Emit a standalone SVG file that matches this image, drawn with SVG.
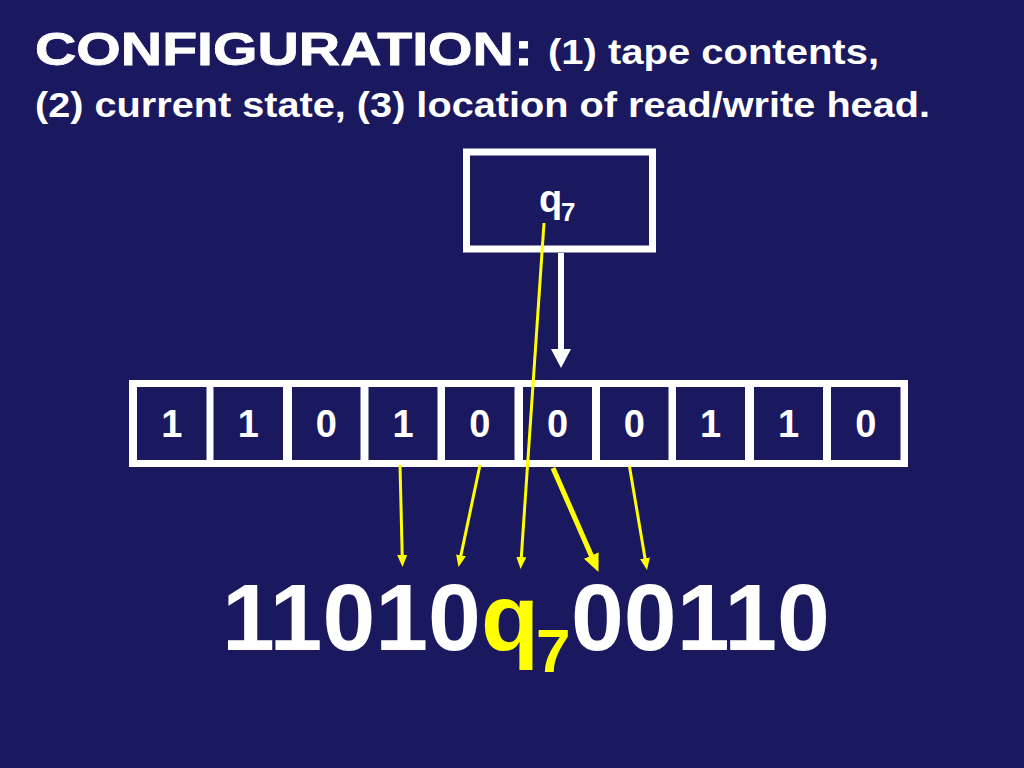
<svg xmlns="http://www.w3.org/2000/svg" width="1024" height="768" viewBox="0 0 1024 768">
<defs>
<style>
.t{font-family:"Liberation Sans",Arial,sans-serif;font-weight:bold;fill:#FFFFFF}
.y{fill:#FFFF00}
.cell{fill:#1A185E}
.dig{font-size:38px;text-anchor:middle}
.ya{stroke:#FFFF00;stroke-width:3;fill:none}
</style>
<marker id="hy" viewBox="0 0 12 10" refX="4" refY="5" markerWidth="12" markerHeight="10" markerUnits="userSpaceOnUse" orient="auto"><path d="M0,0 L12,5 L0,10 z" fill="#FFFF00"/></marker>
<marker id="hyb" viewBox="0 0 18 16" refX="6" refY="8" markerWidth="18" markerHeight="16" markerUnits="userSpaceOnUse" orient="auto"><path d="M0,0 L18,8 L0,16 z" fill="#FFFF00"/></marker>
<marker id="hw" viewBox="0 0 19 20" refX="6" refY="10" markerWidth="19" markerHeight="20" markerUnits="userSpaceOnUse" orient="auto"><path d="M0,0 L19,10 L0,20 z" fill="#FFFFFF"/></marker>
</defs>
<rect width="1024" height="768" fill="#1A185E"/>
<g id="title">
<text class="t" x="35" y="65" font-size="47" textLength="498" lengthAdjust="spacingAndGlyphs" stroke="#FFFFFF" stroke-width="0.8">CONFIGURATION:</text>
<text class="t" x="548" y="64" font-size="35.5" textLength="331" lengthAdjust="spacingAndGlyphs">(1) tape contents,</text>
<text class="t" x="35" y="117" font-size="35.5" textLength="895" lengthAdjust="spacingAndGlyphs">(2) current state, (3) location of read/write head.</text>
</g>
<g id="state">
<rect x="466.5" y="152" width="186" height="97" fill="#1A185E" stroke="#FFFFFF" stroke-width="7"/>
<text class="t" x="539" y="212" font-size="38">q</text>
<text class="t" x="561" y="221" font-size="26">7</text>
</g>
<g id="tape">
<rect x="129" y="380" width="779" height="87" fill="#FFFFFF"/>
<g id="cell1"><rect class="cell" x="137" y="387" width="69.5" height="73"/><text class="t dig" x="171.7" y="437">1</text></g>
<g id="cell2"><rect class="cell" x="213.5" y="387" width="69.5" height="73"/><text class="t dig" x="248.2" y="437">1</text></g>
<g id="cell3"><rect class="cell" x="292" y="387" width="68.5" height="73"/><text class="t dig" x="326.2" y="437">0</text></g>
<g id="cell4"><rect class="cell" x="368.5" y="387" width="69" height="73"/><text class="t dig" x="403" y="437">1</text></g>
<g id="cell5"><rect class="cell" x="445" y="387" width="69.5" height="73"/><text class="t dig" x="479.7" y="437">0</text></g>
<g id="cell6"><rect class="cell" x="523" y="387" width="69" height="73"/><text class="t dig" x="557.5" y="437">0</text></g>
<g id="cell7"><rect class="cell" x="600" y="387" width="68.5" height="73"/><text class="t dig" x="634.2" y="437">0</text></g>
<g id="cell8"><rect class="cell" x="676" y="387" width="69" height="73"/><text class="t dig" x="710.5" y="437">1</text></g>
<g id="cell9"><rect class="cell" x="754" y="387" width="69" height="73"/><text class="t dig" x="788.5" y="437">1</text></g>
<g id="cell10"><rect class="cell" x="831" y="387" width="69.5" height="73"/><text class="t dig" x="865.7" y="437">0</text></g>
</g>
<g id="configuration">
<text class="t" x="222" y="650" font-size="95">11010</text>
<text class="t y" x="481" y="650" font-size="95">q</text>
<text class="t y" x="536" y="672" font-size="62">7</text>
<text class="t" x="571" y="650" font-size="95">00110</text>
</g>
<g id="connectors">
<line x1="561" y1="253" x2="561" y2="355" stroke="#FFFFFF" stroke-width="6" marker-end="url(#hw)"/>
<line class="ya" x1="400" y1="465" x2="402.3" y2="559" marker-end="url(#hy)"/>
<line class="ya" x1="480" y1="465" x2="460.15" y2="559.17" marker-end="url(#hy)"/>
<line class="ya" x1="544" y1="223" x2="521.04" y2="561.02" marker-end="url(#hy)"/>
<line x1="553" y1="468" x2="593.69" y2="561.01" stroke="#FFFF00" stroke-width="5" marker-end="url(#hyb)"/>
<line class="ya" x1="629.5" y1="466.5" x2="645.67" y2="562.11" marker-end="url(#hy)"/>
</g>
</svg>
